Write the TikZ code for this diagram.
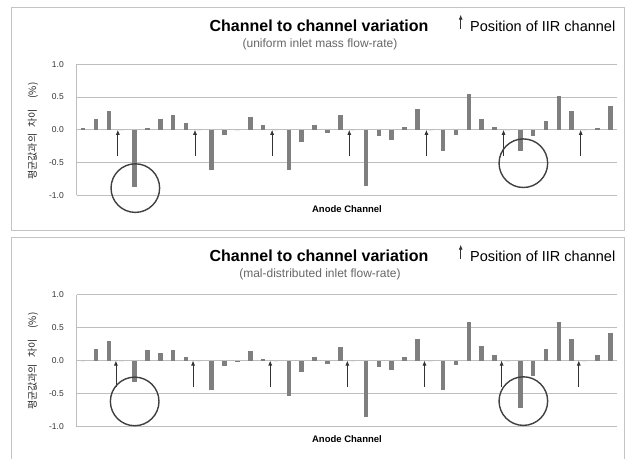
\documentclass[tikz,border=0pt]{standalone}
\usepackage{fontspec}
\setmainfont{Liberation Sans}
\newfontfamily\korfont{Noto Sans CJK KR}
\usetikzlibrary{arrows.meta}
\definecolor{bargray}{HTML}{7F7F7F}
\definecolor{gridgray}{HTML}{BEBEBE}
\definecolor{framegray}{HTML}{C4C4C4}
\definecolor{ringgray}{HTML}{404040}
\definecolor{subgray}{HTML}{666666}
\tikzset{
  panel/.style={draw=framegray,line width=1pt},
  gridln/.style={draw=gridgray,line width=0.9pt},
  bar/.style={fill=bargray},
  iir/.style={->,draw=black!80,line width=0.8pt},
  ring/.style={draw=ringgray,line width=1.4pt},
  ttl/.style={font=\fontsize{16}{19}\selectfont\bfseries,anchor=base,inner sep=0pt},
  subttl/.style={font=\fontsize{12}{14}\selectfont,text=subgray,anchor=base,inner sep=0pt},
  legtxt/.style={font=\fontsize{14.5}{17}\selectfont,anchor=base west,inner sep=0pt},
  ticklab/.style={font=\fontsize{8.5}{10}\selectfont,text=black!80,anchor=east,inner sep=0pt},
  axttl/.style={font=\fontsize{9.5}{11}\selectfont\bfseries,anchor=base,inner sep=0pt},
  ylab/.style={font=\korfont\fontsize{10}{12}\selectfont,text=black!85,rotate=90,inner sep=0pt}
}
\begin{document}
\begin{tikzpicture}[x=1pt,y=-1pt,>={Latex[length=5pt,width=4pt]}]
\useasboundingbox (0,0) rectangle (631,458);

% uniform inlet
\draw[panel] (11.3,7.3) rectangle (624.3,230.7);
\node[ttl] (ttl1) at (319,31.7) {Channel to channel variation};
\node[subttl] (sub1) at (320,47.5) {(uniform inlet mass flow-rate)};
\node[legtxt] (leg1) at (470,31.7) {Position of IIR channel};
\draw[iir] ([xshift=-9.3pt,yshift=3pt]leg1.base west) -- ++(0pt,14pt);
\begin{scope}[shift={(76.7,129.8)},x=12.857pt,y=65.5pt]
  \foreach \g in {-1,-0.5,0,0.5,1}
    \draw[gridln] (0,\g) -- (42,\g);
  \draw[gridln] (0,-1) -- (0,1);
  \foreach \g/\lab [count=\i] in {1/1.0,0.5/0.5,0/0.0,-0.5/-0.5,-1/-1.0}
    \node[ticklab] (tka\i) at (-0.99,\g) {\lab};
  \foreach \v [count=\k from 0] in {0.03,0.17,0.28,0,-0.87,0.02,0.17,0.22,0.11,0,
      -0.62,-0.08,0,0.19,0.07,0,-0.62,-0.18,0.07,-0.05,0.23,0,-0.86,-0.10,-0.16,
      0.04,0.31,0,-0.33,-0.08,0.54,0.17,0.05,0,-0.32,-0.09,0.13,0.52,0.29,0,0.02,0.36}
    \fill[bar] (\k+0.32,0) rectangle (\k+0.68,\v);
  \foreach \a in {3.2,9.2,15.2,21.2,27.2,33.2,39.2}
    \draw[iir] (\a,-0.4) -- (\a,0);
  \draw[ring] (4.56,-0.89) circle[radius=24.3pt];
  \draw[ring] (34.74,-0.51) circle[radius=24.3pt];
  \node[axttl] (xla) at (21.02,-1.255) {Anode Channel};
  \node[ylab] (yla) at (-3.4,-0.02) {평균값과의\hspace{6pt}차이\hspace{11pt}(\%)};
\end{scope}

% mal-distributed inlet
\draw[panel] (11.3,460) -- (11.3,237.3) -- (624.3,237.3) -- (624.3,460);
\node[ttl] (ttl2) at (319,261.7) {Channel to channel variation};
\node[subttl] (sub2) at (320,277.5) {(mal-distributed inlet flow-rate)};
\node[legtxt] (leg2) at (470,261.7) {Position of IIR channel};
\draw[iir] ([xshift=-9.3pt,yshift=3pt]leg2.base west) -- ++(0pt,14pt);
\begin{scope}[shift={(76.7,360.5)},x=12.857pt,y=66pt]
  \foreach \g in {-1,-0.5,0,0.5,1}
    \draw[gridln] (0,\g) -- (42,\g);
  \draw[gridln] (0,-1) -- (0,1);
  \foreach \g/\lab [count=\i] in {1/1.0,0.5/0.5,0/0.0,-0.5/-0.5,-1/-1.0}
    \node[ticklab] (tkb\i) at (-0.99,\g) {\lab};
  \foreach \v [count=\k from 0] in {0,0.17,0.29,0,-0.33,0.16,0.12,0.16,0.06,0,
      -0.44,-0.08,-0.02,0.15,0.03,0,-0.54,-0.18,0.05,-0.06,0.21,0,-0.86,-0.10,-0.14,
      0.05,0.32,0,-0.44,-0.07,0.58,0.22,0.09,0,-0.72,-0.23,0.17,0.59,0.32,0,0.08,0.41}
    \fill[bar] (\k+0.32,0) rectangle (\k+0.68,\v);
  \foreach \a in {3.05,9.05,15.05,21.05,27.05,33.05,39.05}
    \draw[iir] (\a,-0.4) -- (\a,0);
  \draw[ring] (4.51,-0.62) circle[radius=24.3pt];
  \draw[ring] (34.74,-0.615) circle[radius=24.3pt];
  \node[axttl] (xlb) at (21.02,-1.235) {Anode Channel};
  \node[ylab] (ylb) at (-3.4,-0.01) {평균값과의\hspace{6pt}차이\hspace{11pt}(\%)};
\end{scope}
\end{tikzpicture}
\end{document}
